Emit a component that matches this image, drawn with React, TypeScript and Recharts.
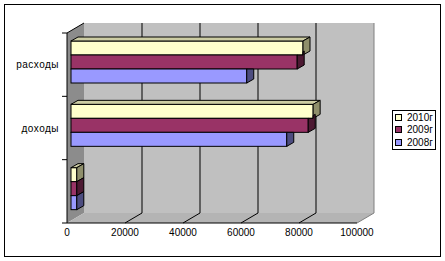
import { BarChart, Bar, XAxis, YAxis, CartesianGrid } from "recharts";

const categories = ["расходы", "доходы", ""];
const seriesNames = ["2010г", "2009г", "2008г"];
const values2010 = [80000, 83500, 2000];
const values2009 = [78000, 81800, 2000];
const values2008 = [60600, 74400, 2000];
const xTicks = [0, 20000, 40000, 60000, 80000, 100000];

const data = categories.map((name, i) => ({
  name,
  s0: values2010[i],
  s1: values2009[i],
  s2: values2008[i],
}));

const fronts = ["#FFFFCC", "#993366", "#9999FF"];
const sides = ["#8F8F6B", "#4D1A33", "#4D4D80"];
const topFace = "#CCCCA3";

// depth of the walls, of the bar plane and of the bars themselves
const WX = 17, WY = -10;
const BX = 4, BY = -3;
const DX = 7, DY = -4;

const font = "'Liberation Sans', Arial, sans-serif";

function makeShape(s: number) {
  return (p: any) => {
    const { x, y, width, height, payload } = p;
    if (!width) return <g />;
    const x0 = x + BX, y0 = y + BY, x1 = x0 + width, y1 = y0 + height;
    let side = `${x1},${y0} ${x1 + DX},${y0 + DY} ${x1 + DX},${y1 + DY} ${x1},${y1}`;
    if (s > 0) {
      // the bar above hides part of this bar's side face
      const ux = x0 + (width * payload[`s${s - 1}`]) / payload[`s${s}`];
      if (ux >= x1 + DX) {
        side = `${x1},${y0} ${x1 + DX},${y0} ${x1 + DX},${y1 + DY} ${x1},${y1}`;
      } else if (ux > x1) {
        const sy = y0 + (DY * (ux - x1)) / DX;
        side = `${x1},${y0} ${ux},${y0} ${ux},${sy} ${x1 + DX},${y0 + DY} ${x1 + DX},${y1 + DY} ${x1},${y1}`;
      }
    }
    return (
      <g stroke="#000" strokeWidth={1}>
        <rect x={x0} y={y0} width={width} height={height} fill={fronts[s]} />
        {s === 0 && (
          <polygon
            points={`${x0},${y0} ${x0 + DX},${y0 + DY} ${x1 + DX},${y0 + DY} ${x1},${y0}`}
            fill={topFace}
          />
        )}
        <polygon points={side} fill={sides[s]} />
      </g>
    );
  };
}

function gridLine(p: any) {
  const { x1, y1, y2, index, x, y, width, height } = p;
  const last = index === xTicks.length - 1;
  if (index === 0) {
    const n = categories.length;
    return (
      <g>
        <rect x={x + WX} y={y + WY} width={width} height={height} fill="#C0C0C0" />
        <polygon
          points={`${x},${y} ${x + WX},${y + WY} ${x + WX},${y + height + WY} ${x},${y + height}`}
          fill="#8C8C8C"
        />
        <polygon
          points={`${x},${y + height} ${x + width},${y + height} ${x + width + WX},${y + height + WY} ${x + WX},${y + height + WY}`}
          fill="#B4B4B4"
        />
        <line x1={x} y1={y} x2={x + WX} y2={y + WY} stroke="#000" />
        {categories.map((_, k) => (
          <line key={k} x1={x - 5} y1={y + (k * height) / n} x2={x} y2={y + (k * height) / n} stroke="#000" />
        ))}
        <line x1={x - 5} y1={y + height} x2={x} y2={y + height} stroke="#000" />
      </g>
    );
  }
  return (
    <g stroke={last ? "#808080" : "#000"}>
      <line x1={x1 + WX} y1={y1 + WY} x2={x1 + WX} y2={y2 + WY} />
      <line x1={x1} y1={y2} x2={x1 + WX} y2={y2 + WY} />
    </g>
  );
}

export default function App() {
  return (
    <div style={{ position: "absolute", left: 0, top: 0, width: 445, height: 261, background: "#fff" }}>
      <BarChart
        width={445}
        height={261}
        data={data}
        layout="vertical"
        barSize={14}
        barGap={0}
        margin={{ top: 33, right: 88, bottom: 8, left: 0 }}
      >
        <CartesianGrid horizontal={false} vertical={gridLine} />
        <XAxis
          type="number"
          domain={[0, 100000]}
          ticks={xTicks}
          interval={0}
          height={30}
          tickLine={false}
          tickSize={4}
          tickMargin={2}
          axisLine={{ stroke: "#000" }}
          tick={{ fill: "#000", fontSize: 10, fontFamily: font }}
        />
        <YAxis
          type="category"
          dataKey="name"
          width={67}
          tickLine={false}
          axisLine={{ stroke: "#000" }}
          tick={{ fill: "#000", fontSize: 10, fontFamily: font, letterSpacing: 0.5 }}
        />
        {seriesNames.map((n, i) => (
          <Bar key={n} dataKey={`s${i}`} name={n} fill={fronts[i]} shape={makeShape(i)} isAnimationActive={false} />
        ))}
      </BarChart>
      <div
        style={{
          position: "absolute",
          left: 4,
          top: 4,
          width: 437,
          height: 253,
          boxSizing: "border-box",
          border: "1px solid #000",
          pointerEvents: "none",
        }}
      />
      <div
        style={{
          position: "absolute",
          left: 392,
          top: 110,
          width: 44,
          height: 40,
          boxSizing: "border-box",
          border: "1px solid #000",
          background: "#fff",
          fontFamily: font,
          fontSize: 10,
        }}
      >
        {seriesNames.map((n, i) => (
          <div
            key={n}
            style={{ position: "absolute", left: 2, top: i * 12.5, height: 12, display: "flex", alignItems: "center" }}
          >
            <span
              style={{ display: "inline-block", width: 5, height: 5, border: "1px solid #000", background: fronts[i], marginRight: 5 }}
            />
            <span>{n}</span>
          </div>
        ))}
      </div>
    </div>
  );
}
